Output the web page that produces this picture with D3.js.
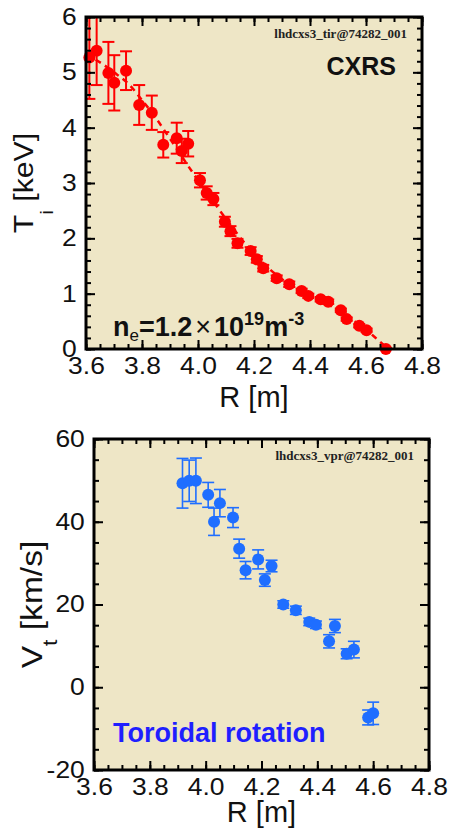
<!DOCTYPE html>
<html><head><meta charset="utf-8">
<script src="https://cdn.jsdelivr.net/npm/d3@7"></script>
<style>body{margin:0;background:#fff}svg{display:block}</style>
</head><body><svg id="c" width="454" height="831"></svg>
<script>
// ---- data: ion temperature (CXRS) ----
const tiR   = [3.612,3.638,3.680,3.701,3.743,3.790,3.835,3.876,3.924,3.942,3.965,4.007,4.031,4.055,4.096,4.116,4.141,4.188,4.210,4.233,4.281,4.326,4.370,4.394,4.438,4.465,4.510,4.531,4.576,4.602,4.671];
const tiT   = [5.27,5.39,4.99,4.81,5.03,4.41,4.27,3.69,3.81,3.58,3.71,3.05,2.82,2.71,2.30,2.13,1.91,1.77,1.62,1.46,1.28,1.17,1.05,0.96,0.90,0.855,0.70,0.54,0.42,0.34,0.0];
const tiErr = [0.75,0.62,0.56,0.50,0.35,0.36,0.31,0.23,0.28,0.22,0.23,0.13,0.12,0.11,0.09,0.09,0.08,0.07,0.06,0.06,0.05,0.05,0.04,0.04,0.04,0.04,0.03,0.03,0.03,0.03,0.02];
// fitted profile (dashed)
const fitR = [3.60,3.65,3.70,3.75,3.80,3.85,3.90,3.95,4.00,4.05,4.10,4.15,4.20,4.25,4.30,4.35,4.40,4.45,4.50,4.55,4.60,4.65,4.68];
const fitT = [5.32,5.18,5.00,4.80,4.50,4.17,3.80,3.42,3.05,2.70,2.35,2.02,1.72,1.47,1.26,1.10,0.97,0.85,0.70,0.53,0.35,0.13,0.0];
// ---- data: toroidal rotation ----
const vtR   = [3.917,3.941,3.965,4.009,4.030,4.051,4.098,4.120,4.143,4.188,4.212,4.236,4.278,4.323,4.371,4.395,4.442,4.463,4.505,4.531,4.582,4.600];
const vtV   = [49.3,49.9,49.9,46.5,40.0,44.5,41.0,33.5,28.3,30.9,25.9,29.3,20.0,18.6,15.8,15.1,11.1,14.8,8.1,9.1,-7.3,-6.3];
const vtErr = [6.0,5.0,5.5,3.0,3.3,3.3,2.4,2.3,2.1,2.3,1.5,1.4,0.9,1.0,0.9,0.9,1.6,1.6,1.2,2.0,1.8,2.7];
// ---- ticks ----
const xTicks  = [3.6,3.8,4.0,4.2,4.4,4.6,4.8];
const tiTicks = [0,1,2,3,4,5,6];
const vtTicks = [-20,0,20,40,60];

const svg = d3.select("#c");
const BG = "#eee6c6";
const FONT = "'Liberation Sans', Arial, sans-serif";

function panel(o){
  const g = svg.append("g");
  const x = d3.scaleLinear().domain([3.6,4.8]).range([o.l,o.r]);
  const y = d3.scaleLinear().domain(o.yd).range([o.b,o.t]);
  g.append("rect").attr("x",o.l).attr("y",o.t).attr("width",o.r-o.l).attr("height",o.b-o.t).attr("fill",BG);
  svg.append("clipPath").attr("id","clip"+o.id).append("rect")
    .attr("x",o.l).attr("y",o.t).attr("width",o.r-o.l).attr("height",o.b-o.t);
  const pg = g.append("g").attr("clip-path",`url(#clip${o.id})`);

  if(o.fitR){
    pg.append("path").datum(d3.range(o.fitR.length))
      .attr("d", d3.line().curve(d3.curveMonotoneX).x(i=>x(o.fitR[i])).y(i=>y(o.fitT[i])))
      .attr("fill","none").attr("stroke",o.color).attr("stroke-width",2.5).attr("stroke-dasharray","6,5");
  }
  const idx = d3.range(o.R.length);
  const eb = pg.selectAll("g.eb").data(idx).join("g").attr("stroke",o.color).attr("stroke-width",o.ebw);
  eb.append("line").attr("x1",i=>x(o.R[i])).attr("x2",i=>x(o.R[i]))
    .attr("y1",i=>y(o.V[i]-o.E[i])).attr("y2",i=>y(o.V[i]+o.E[i]));
  [-1,1].forEach(s=>{
    eb.append("line").attr("x1",i=>x(o.R[i])-6).attr("x2",i=>x(o.R[i])+6)
      .attr("y1",i=>y(o.V[i]+s*o.E[i])).attr("y2",i=>y(o.V[i]+s*o.E[i]));
  });
  g.selectAll("circle.pt").data(idx).join("circle").attr("class","pt")
    .attr("cx",i=>x(o.R[i])).attr("cy",i=>y(o.V[i])).attr("r",6).attr("fill",o.color);

  // axes
  const xMinor = d3.range(0,25).map(k=>3.6+k*0.05);
  const yMinor = d3.range(0, Math.round((o.yd[1]-o.yd[0])/o.ym)+1).map(k=>o.yd[0]+k*o.ym);
  const styleAx = sel=>{ sel.select(".domain").remove(); sel.selectAll("line").attr("stroke","#000").attr("stroke-width",2); };
  const ax = [];
  ax.push(g.append("g").attr("transform",`translate(0,${o.b})`).call(d3.axisBottom(x).tickValues(xTicks).tickSize(-9).tickPadding(9).tickFormat(d3.format(".1f"))));
  ax.push(g.append("g").attr("transform",`translate(0,${o.b})`).call(d3.axisBottom(x).tickValues(xMinor).tickSize(-5).tickFormat("")));
  ax.push(g.append("g").attr("transform",`translate(0,${o.t})`).call(d3.axisTop(x).tickValues(xTicks).tickSize(-9).tickFormat("")));
  ax.push(g.append("g").attr("transform",`translate(0,${o.t})`).call(d3.axisTop(x).tickValues(xMinor).tickSize(-5).tickFormat("")));
  ax.push(g.append("g").attr("transform",`translate(${o.l},0)`).call(d3.axisLeft(y).tickValues(o.yt).tickSize(-9).tickPadding(8).tickFormat(d=>String(d))));
  ax.push(g.append("g").attr("transform",`translate(${o.l},0)`).call(d3.axisLeft(y).tickValues(yMinor).tickSize(-5).tickFormat("")));
  ax.push(g.append("g").attr("transform",`translate(${o.r},0)`).call(d3.axisRight(y).tickValues(o.yt).tickSize(-9).tickFormat("")));
  ax.push(g.append("g").attr("transform",`translate(${o.r},0)`).call(d3.axisRight(y).tickValues(yMinor).tickSize(-5).tickFormat("")));
  ax.forEach(a=>{ styleAx(a); a.selectAll("text").attr("font-family",FONT).attr("font-size",23).attr("fill","#111").attr("transform","scale(1.15,1)"); });

  g.append("rect").attr("x",o.l).attr("y",o.t).attr("width",o.r-o.l).attr("height",o.b-o.t)
    .attr("fill","none").attr("stroke","#000").attr("stroke-width",3);

  // axis titles
  g.append("text").attr("x",(o.l+o.r)/2).attr("y",o.b+o.xlDy).attr("text-anchor","middle")
    .attr("font-family",FONT).attr("font-size",29).attr("fill","#111").text("R [m]");
  const yl = g.append("text").attr("transform",`translate(${o.ylx},${(o.t+o.b)/2}) rotate(-90) scale(1.12,1)`)
    .attr("text-anchor","middle").attr("font-family",FONT).attr("font-size",o.ylfs).attr("fill","#111");
  yl.append("tspan").text(o.ylMain);
  yl.append("tspan").attr("font-size",o.ylfs*0.68).attr("dy",o.subDy).text(o.ylSub);
  yl.append("tspan").attr("dy",-o.subDy).text(" "+o.ylUnit);

  g.append("text").attr("x",o.r-15).attr("y",o.t+21).attr("text-anchor","end")
    .attr("font-family","'Liberation Serif','Times New Roman',serif").attr("font-weight","bold")
    .attr("font-size",13).attr("fill","#222").text(o.tag);
  return {x,y,g};
}

const p1 = panel({id:1,l:86,r:422,t:17,b:349,yd:[0,6],yt:tiTicks,ym:0.2,R:tiR,V:tiT,E:tiErr,
  fitR:fitR,fitT:fitT,color:"#ff0000",ebw:2,ylx:33,ylfs:27,ylMain:"T",ylSub:"i",ylUnit:"[keV]",subDy:20,
  xlDy:58,tag:"lhdcxs3_tir@74282_001"});
p1.g.append("text").attr("x",396).attr("y",75).attr("text-anchor","end").attr("font-family",FONT)
  .attr("font-weight","bold").attr("font-size",25).attr("fill","#111").text("CXRS");
const ne = p1.g.append("text").attr("x",113).attr("y",336).attr("font-family",FONT)
  .attr("font-weight","bold").attr("font-size",27).attr("fill","#111");
ne.append("tspan").text("n");
ne.append("tspan").attr("font-size",17).attr("dy",5).attr("font-weight","normal").text("e");
ne.append("tspan").attr("dy",-5).text("=1.2");
ne.append("tspan").attr("font-weight","normal").attr("dx",3).text("×");
ne.append("tspan").attr("dx",3).text("10");
ne.append("tspan").attr("font-size",18).attr("dy",-11).text("19");
ne.append("tspan").attr("dy",11).text("m");
ne.append("tspan").attr("font-size",18).attr("dy",-11).text("-3");

const p2 = panel({id:2,l:94,r:429,t:439,b:770,yd:[-20,60],yt:vtTicks,ym:5,R:vtR,V:vtV,E:vtErr,
  color:"#1f6eff",ebw:1.6,ylx:42,ylfs:30,ylMain:"V",ylSub:"t",ylUnit:"[km/s]",subDy:15,
  xlDy:52,tag:"lhdcxs3_vpr@74282_001"});
p2.g.append("text").attr("x",113).attr("y",742).attr("font-family",FONT)
  .attr("font-weight","bold").attr("font-size",27).attr("fill","#1f1fff").text("Toroidal rotation");
</script></body></html>
